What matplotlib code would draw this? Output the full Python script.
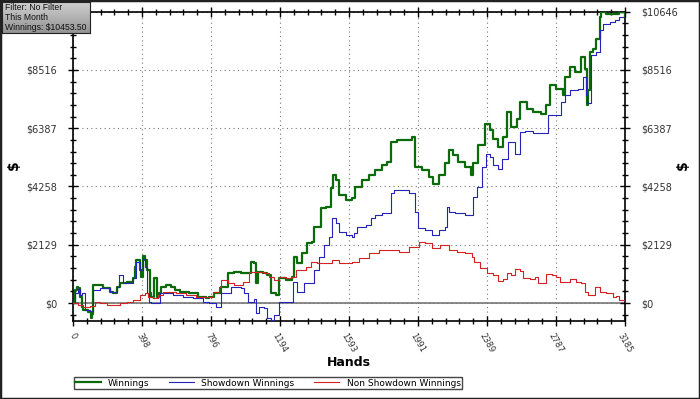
import numpy as np
import matplotlib.pyplot as plt
from matplotlib.patches import Rectangle

# hands / cumulative $
win_hands = [0, 11, 21, 30, 40, 50, 59, 88, 102, 112, 117, 136, 174, 213, 232, 251, 270, 309, 347, 356,
             366, 385, 395, 404, 414, 427, 443, 452, 466, 477, 484, 496, 510, 538, 567, 586, 615, 672, 720, 768,
             787, 816, 855, 893, 931, 970, 1007, 1027, 1042, 1056, 1065, 1094, 1122, 1142, 1171, 1190, 1228, 1266, 1276, 1295,
             1324, 1352, 1381, 1391, 1429, 1458, 1487, 1502, 1515, 1534, 1573, 1611, 1630, 1668, 1707, 1745, 1783, 1812, 1832, 1870,
             1918, 1956, 1975, 2013, 2052, 2075, 2109, 2148, 2167, 2195, 2224, 2263, 2297, 2310, 2339, 2378, 2406, 2425, 2454, 2483,
             2502, 2530, 2559, 2579, 2617, 2655, 2703, 2732, 2751, 2789, 2828, 2837, 2866, 2895, 2933, 2952, 2965, 2971, 2981, 3000,
             3019, 3038, 3048, 3076, 3115, 3153, 3185]
win_vals = [0, 475, 595, 560, 230, -135, -255, -318, -560, -400, 657, 657, 535, 413, 352, 595, 718, 778, 900, 1325,
            1570, 1205, 960, 1715, 1570, 1205, 353, 230, 900, 900, 230, 353, 595, 657, 595, 475, 413, 353, 230, 170,
            230, 353, 595, 1085, 1143, 1085, 1085, 1508, 1448, 718, 1143, 1085, 1022, 353, 292, 900, 840, 960, 1690, 1448,
            1814, 2180, 2238, 2785, 3457, 3515, 4187, 4672, 4490, 3942, 3760, 3820, 4245, 4490, 4672, 4855, 5037, 5157, 5887, 5975,
            5950, 6070, 4975, 4855, 4610, 4343, 4672, 5100, 5585, 5400, 5157, 4975, 4672, 5100, 5767, 6560, 6315, 6012, 5705, 6070,
            6982, 6435, 6742, 7347, 7107, 6982, 6925, 7227, 7957, 7837, 7592, 8260, 8625, 8442, 8990, 8565, 7227, 7800, 9172, 9295,
            9660, 10450, 10630, 10570, 10570, 10630, 10453]

sd_hands = [0, 11, 29, 40, 50, 69, 98, 117, 155, 213, 251, 266, 289, 347, 366, 385, 404, 414, 427, 438,
            452, 484, 500, 538, 576, 634, 691, 749, 787, 826, 855, 912, 970, 989, 1007, 1046, 1056, 1075, 1103, 1122,
            1142, 1161, 1190, 1266, 1272, 1295, 1324, 1333, 1381, 1391, 1420, 1448, 1477, 1496, 1515, 1534, 1573, 1611, 1621, 1640,
            1688, 1717, 1745, 1783, 1832, 1837, 1851, 1908, 1937, 1966, 1975, 1990, 2033, 2071, 2109, 2148, 2157, 2167, 2205, 2263,
            2301, 2310, 2329, 2358, 2383, 2406, 2425, 2454, 2473, 2502, 2511, 2550, 2575, 2579, 2607, 2655, 2732, 2741, 2808, 2818,
            2837, 2866, 2914, 2942, 2961, 2965, 2990, 3019, 3038, 3057, 3096, 3130, 3149, 3185]
sd_vals = [0, 353, 500, 300, 353, -255, -300, 475, 550, 420, 600, 1022, 718, 900, 1500, 1200, 1600, 1300, 353, 48,
           0, 0, 353, 353, 292, 230, 170, 48, 0, -135, 353, 595, 535, 353, 48, 135, -376, -135, -193, -560,
           -620, -438, 48, 48, 778, 413, 413, 718, 718, 1205, 1690, 2117, 2420, 3092, 2910, 2603, 2482, 2420, 2543, 2785,
           2847, 3092, 3212, 3275, 3275, 4005, 4125, 4125, 4005, 4005, 3333, 2727, 2665, 2482, 2665, 2785, 3515, 3333, 3275, 3212,
           3212, 3880, 4245, 4975, 5462, 5340, 5037, 4915, 5280, 5280, 5887, 5462, 5462, 6252, 6278, 6195, 6195, 6862, 6862, 7347,
           7592, 7775, 7837, 8260, 7592, 7300, 9052, 9172, 9965, 10208, 10270, 10330, 10450, 10453]

nsd_hands = [0, 11, 30, 59, 98, 126, 155, 194, 232, 270, 309, 347, 385, 414, 433, 461, 490, 519, 557, 596,
             653, 711, 768, 806, 845, 855, 893, 931, 979, 1017, 1065, 1103, 1132, 1161, 1190, 1228, 1257, 1286, 1314, 1343,
             1372, 1410, 1448, 1496, 1534, 1573, 1611, 1649, 1707, 1764, 1822, 1879, 1937, 1994, 2033, 2071, 2119, 2167, 2214, 2263,
             2301, 2316, 2349, 2387, 2425, 2454, 2483, 2502, 2530, 2550, 2579, 2598, 2636, 2665, 2684, 2713, 2732, 2761, 2789, 2808,
             2847, 2866, 2904, 2933, 2952, 2971, 3000, 3010, 3038, 3076, 3115, 3134, 3153, 3185]
nsd_vals = [0, 0, -73, -135, -100, 48, 0, -73, -73, 0, 48, 110, 292, 353, 230, 170, 292, 413, 413, 353,
            292, 230, 230, 413, 595, 840, 718, 657, 778, 1143, 1143, 1085, 960, 840, 960, 900, 960, 1205, 1205, 1325,
            1508, 1448, 1448, 1570, 1448, 1448, 1508, 1630, 1814, 1935, 1935, 1873, 2055, 2238, 2180, 1997, 2117, 1935, 1873, 1814,
            1690, 1500, 1265, 1085, 1022, 815, 865, 1085, 1022, 1230, 1180, 900, 865, 937, 740, 740, 1058, 1022, 960, 778,
            778, 865, 778, 718, 413, 292, 292, 595, 413, 353, 230, 255, 110, 10]

x_ticks = [0, 398.125, 796.25, 1194.375, 1592.5, 1990.625, 2388.75, 2786.875, 3185]
x_labels = ["0", "398", "796", "1194", "1593", "1991", "2389", "2787", "3185"]
y_ticks = [0, 2129.2, 4258.4, 6387.6, 8516.8, 10646]
y_labels = ["$0", "$2129", "$4258", "$6387", "$8516", "$10646"]

fig = plt.figure(figsize=(7, 3.99), dpi=100)
ax = fig.add_axes([73/700, 1 - 320.7/399, 552/700, 309/399])

ax.axhline(0, color='#808080', lw=1.3, zorder=1)
ax.plot(win_hands, win_vals, drawstyle='steps-post', color='#0b6b0b', lw=1.6, zorder=3)
ax.plot(sd_hands, sd_vals, drawstyle='steps-post', color='#2424b8', lw=0.8, zorder=4)
ax.plot(nsd_hands, nsd_vals, drawstyle='steps-post', color='#d42222', lw=0.8, zorder=5)

ax.set_xlim(0, 3185)
ax.set_ylim(-646, 10646)
ax.set_xticks(x_ticks)
ax.set_xticklabels(x_labels, rotation=-60, ha='center', fontsize=6, color='#333333')
ax.set_xticks(np.arange(0, 3185.1, 3185/40), minor=True)
ax.set_yticks(y_ticks)
ax.set_yticklabels(y_labels, fontsize=7, color='#333333')
ax.set_yticks(np.arange(-425.84, 10647, 425.84), minor=True)
ax.grid(True, which='major', color='#777777', linestyle=(0, (1, 3)), lw=0.8)
ax.tick_params(which='major', direction='inout', length=7, width=1, pad=8)
ax.tick_params(which='minor', direction='inout', length=5, width=1)
ax.tick_params(axis='x', which='major', pad=4)
ax.tick_params(axis='x', which='both', top=True)
ax.tick_params(axis='y', which='both', right=True, labelright=True)
# top-left label sits under the info box in the original
ax.yaxis.get_major_ticks()[-1].label1.set_visible(False)
for s in ax.spines.values():
    s.set_linewidth(1.2)

fig.text(349/700, 1 - 362/399, "Hands", fontsize=9, fontweight='bold', ha='center', va='center')
fig.text(14/700, 1 - 165/399, "$", fontsize=10, fontweight='bold', rotation=90, ha='center', va='center')
fig.text(683/700, 1 - 165/399, "$", fontsize=10, fontweight='bold', rotation=90, ha='center', va='center')

leg = ax.legend(handles=ax.lines[1:4], labels=["Winnings", "Showdown Winnings", "Non Showdown Winnings"],
                loc='lower left', bbox_to_anchor=(74/700, 1 - 389/399, 388/700, 13/399),
                bbox_transform=fig.transFigure, mode='expand', ncol=3, fontsize=6.5,
                handlelength=2.8, borderpad=0.15, handletextpad=0.8, fancybox=False,
                edgecolor='#444444', framealpha=1, borderaxespad=0)
leg.get_frame().set_linewidth(1)

# info box top left
bx = fig.add_axes([2/700, 1 - 33/399, 88/700, 31/399])
bx.imshow(np.linspace(0.82, 0.58, 30).reshape(-1, 1), cmap='gray', vmin=0, vmax=1,
          aspect='auto', extent=[0, 1, 0, 1])
bx.set_xticks([])
bx.set_yticks([])
for s in bx.spines.values():
    s.set_color('#222222')
for i, line in enumerate(["Filter: No Filter", "This Month", "Winnings: $10453.50"]):
    bx.text(0.03, 0.82 - 0.32 * i, line, fontsize=6.2, family='Liberation Sans',
            va='center', color='#111111')

fig.patches.append(Rectangle((0, 0), 1, 1, transform=fig.transFigure, fill=False,
                             edgecolor='#222222', lw=2.5))

plt.savefig("out.png", dpi=100)
